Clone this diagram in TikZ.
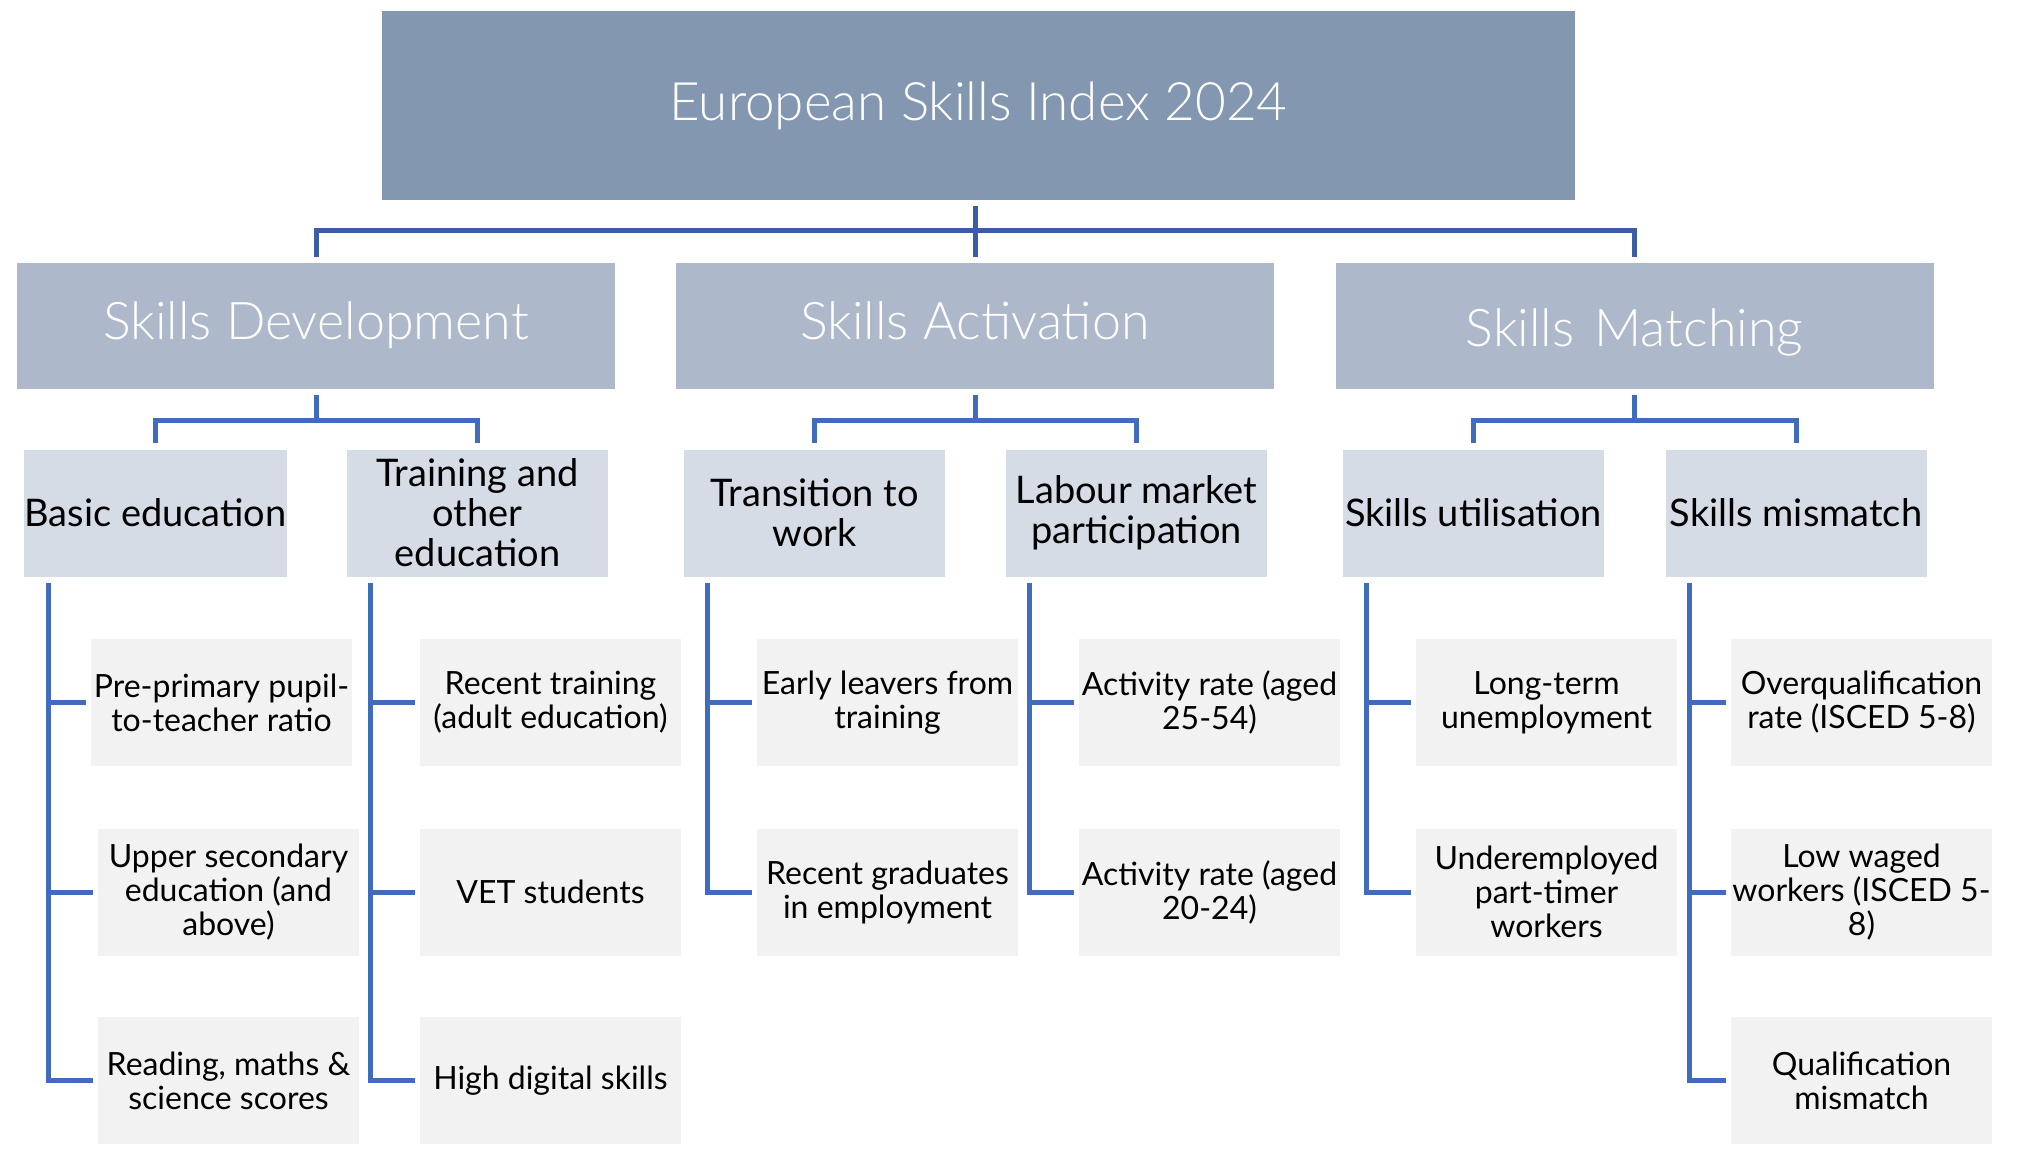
\documentclass[tikz,border=0pt]{standalone}
\usepackage{fontspec}
\setmainfont{Lato}
\newfontfamily\latolight{Lato Light}
\usetikzlibrary{calc}
\definecolor{cTop}{HTML}{8497B0}
\definecolor{cLtwo}{HTML}{ADB9CA}
\definecolor{cLthree}{HTML}{D6DCE5}
\definecolor{cLfour}{HTML}{F2F2F2}
\definecolor{cLine}{HTML}{416BBD}
\definecolor{cLineTop}{HTML}{3A5DA5}
\begin{document}
\begin{tikzpicture}[x=1pt,y=-1pt,
  box/.style={rectangle, inner sep=0pt, align=center, minimum height=127pt},
  topbox/.style={box, fill=cTop, minimum width=1193pt, minimum height=189pt, text=white, font=\latolight\fontsize{53}{56}\selectfont},
  catbox/.style={box, fill=cLtwo, minimum width=598pt, minimum height=126pt, text=white, text height=38pt, text depth=10pt, font=\latolight\fontsize{52}{55}\selectfont},
  subbox/.style={box, fill=cLthree, minimum width=261pt, text=black, font=\fontsize{38}{40}\selectfont},
  indbox/.style={box, fill=cLfour, minimum width=261pt, text=black, font=\fontsize{32}{34}\selectfont},
  conn/.style={draw=cLine, line width=5pt, line join=miter},
  conntop/.style={draw=cLineTop, line width=5pt, line join=miter}
]
\useasboundingbox (0,0) rectangle (2021,1155);

% level 1
\node[topbox] (top) at (978.5,105.5) {European Skills Index 2024};

% level 2
\node[catbox] (sd) at (316,326) {Skills Development};
\node[catbox] (sa) at (975,326) {Skills Activation};
\node[catbox, text height=52pt] (sm) at (1634.5,326) {Skills\hspace{6pt} Matching};

% level 3
\node[subbox] (b)  at (155.5,513) {Basic education};
\node[subbox] (t)  at (477.5,513) {Training and\\other\\education};
\node[subbox] (tr) at (814.5,513) {Transition to\\work};
\node[subbox] (l)  at (1136.5,513) {Labour market\\participation};
\node[subbox] (u)  at (1473.5,513) {Skills utilisation};
\node[subbox] (m)  at (1796,513) {Skills mismatch};

% level 4
\node[indbox] (b1) at (221.5,702.5) {Pre-primary pupil-\\to-teacher ratio};
\node[indbox] (b2) at (228.5,892) {Upper secondary\\education (and\\above)};
\node[indbox] (b3) at (228.5,1080.5) {Reading, maths \&\\science scores};

\node[indbox] (t1) at (550.5,702.5) {Recent training\\(adult education)};
\node[indbox] (t2) at (550.5,892) {VET students};
\node[indbox] (t3) at (550.5,1080.5) {High digital skills};

\node[indbox] (tr1) at (887.5,702.5) {Early leavers from\\training};
\node[indbox] (tr2) at (887.5,892) {Recent graduates\\in employment};

\node[indbox] (l1) at (1209.5,702.5) {Activity rate (aged\\25-54)};
\node[indbox] (l2) at (1209.5,892) {Activity rate (aged\\20-24)};

\node[indbox] (u1) at (1546.5,702.5) {Long-term\\unemployment};
\node[indbox] (u2) at (1546.5,892) {Underemployed\\part-timer\\workers};

\node[indbox] (m1) at (1861.5,702.5) {Overqualification\\rate (ISCED 5-8)};
\node[indbox] (m2) at (1861.5,892) {Low waged\\workers (ISCED 5-\\8)};
\node[indbox] (m3) at (1861.5,1080.5) {Qualification\\mismatch};

% connectors level 1 -> 2
\coordinate (topfoot) at (sa.north |- top.south);
\draw[conntop] ([yshift=-6pt]topfoot) -- ([yshift=6pt]sa.north);
\draw[conntop] ([yshift=6pt]sd.north) |- ([yshift=32pt]sa.north) -| ([yshift=6pt]sm.north);

% connectors level 2 -> 3
\foreach \p/\c/\d in {sd/b/t, sa/tr/l, sm/u/m}{
  \draw[conn] ([yshift=-6pt]\p.south) -- ([yshift=-31pt]\p.south);
  \draw[conn] ([yshift=6pt]\c.north) |- ([yshift=-31pt]\p.south) -| ([yshift=6pt]\d.north);
}

% connectors level 3 -> 4
\foreach \p/\last in {b/b3, t/t3, tr/tr2, l/l2, u/u2, m/m3}{
  \coordinate (s\p) at ([xshift=24pt,yshift=-6pt]\p.south west);
  \draw[conn] (s\p) |- ([xshift=-5pt]\last.west);
}
\foreach \p/\c in {b/b1, b/b2, t/t1, t/t2, tr/tr1, l/l1, u/u1, m/m1, m/m2}{
  \draw[conn] (s\p |- \c.west) -- ([xshift=-5pt]\c.west);
}
\end{tikzpicture}
\end{document}
